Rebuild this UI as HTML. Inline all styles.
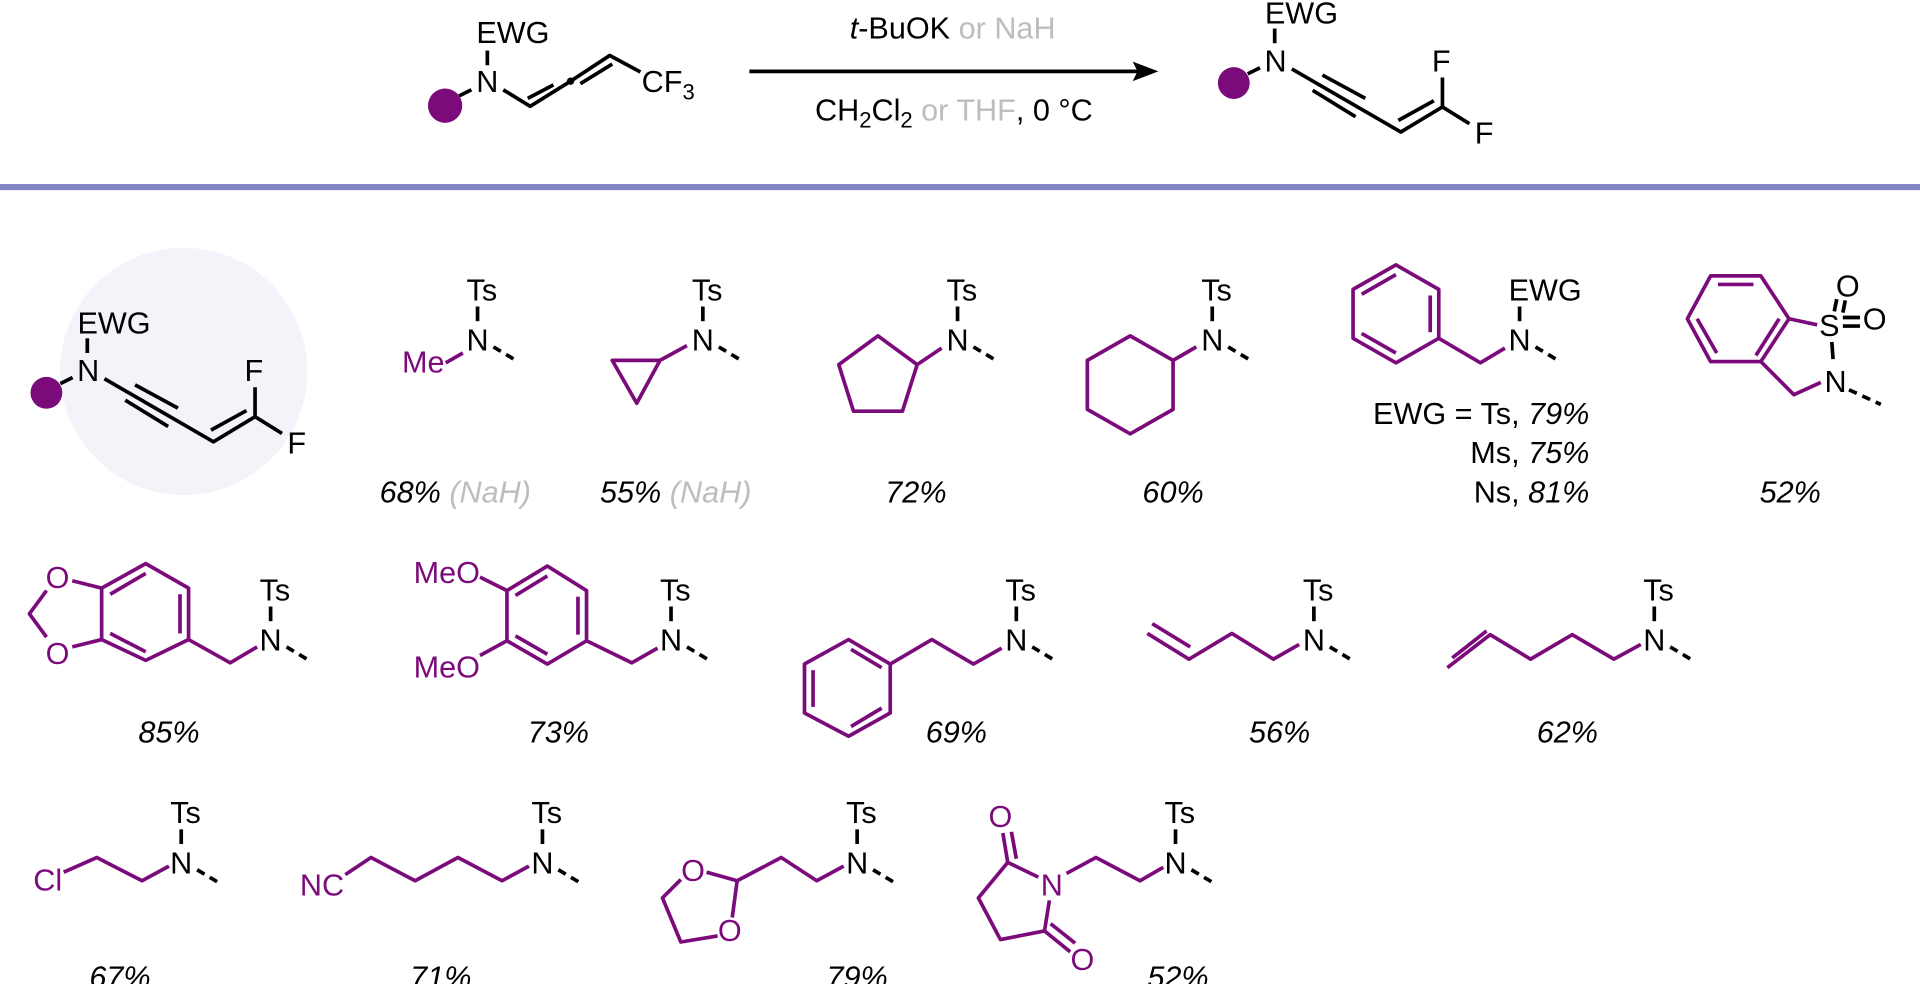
<!DOCTYPE html>
<html><head><meta charset="utf-8"><style>
html,body{margin:0;padding:0;background:#fff;}
svg{display:block;}
text{font-family:"Liberation Sans",Arial,sans-serif;font-size:25px;fill:#000;}
.p{fill:#7b0a7b;}
.g{fill:#bdbdbd;}
.i{font-style:italic;}
.k{stroke:#000;stroke-width:3;fill:none;stroke-linecap:butt;stroke-linejoin:round;}
.v{stroke:#7b0a7b;stroke-width:3;fill:none;stroke-linejoin:round;}
.d{stroke:#000;stroke-width:3;stroke-dasharray:7 5;}
</style></head><body>
<svg width="1920" height="984" viewBox="0 0 1568 803" xmlns="http://www.w3.org/2000/svg">
<rect width="1568" height="803" fill="#fff"/>
<!-- header SM -->
<text x="389" y="35">EWG</text>
<line class="k" x1="398" y1="41" x2="398" y2="53"/>
<text x="398" y="75" text-anchor="middle">N</text>
<circle cx="363.5" cy="86" r="14" fill="#7b0a7b"/>
<line class="k" x1="375" y1="78" x2="385" y2="73"/>
<polyline class="k" points="411,73 433,86.5 466,66 498,45 523,58.5"/>
<line class="k" x1="431" y1="80" x2="452" y2="69"/>
<line class="k" x1="474" y1="68" x2="500" y2="52"/>
<circle cx="466" cy="66" r="3" fill="#000"/>
<text x="524" y="75">CF<tspan font-size="18" dy="6">3</tspan></text>
<!-- arrow -->
<line class="k" x1="612" y1="58" x2="932" y2="58"/>
<polygon points="946,58 925,50 929,58 925,66" fill="#000"/>
<text x="778" y="31" text-anchor="middle"><tspan class="i">t</tspan>-BuOK <tspan class="g">or NaH</tspan></text>
<text x="779" y="98" text-anchor="middle">CH<tspan font-size="18" dy="6">2</tspan><tspan dy="-6">Cl</tspan><tspan font-size="18" dy="6">2</tspan><tspan class="g" dy="-6"> or THF</tspan>, 0 °C</text>
<!-- product -->
<g id="prod">
<text x="1033" y="19">EWG</text>
<line class="k" x1="1041" y1="23" x2="1041" y2="35"/>
<text x="1041.7" y="58" text-anchor="middle">N</text>
<circle cx="1007.6" cy="67.5" r="13" fill="#7b0a7b"/>
<line class="k" x1="1019" y1="60" x2="1029" y2="55"/>
<polyline class="k" points="1055,56 1144,107.5 1178,87 1178,63"/>
<line class="k" x1="1080" y1="61" x2="1115" y2="80"/>
<line class="k" x1="1072" y1="73.5" x2="1107" y2="95"/>
<line class="k" x1="1142" y1="98" x2="1171" y2="82"/>
<line class="k" x1="1178" y1="87" x2="1200" y2="100.7"/>
<text x="1177" y="58" text-anchor="middle">F</text>
<text x="1212" y="117" text-anchor="middle">F</text>
</g>
<rect x="0" y="150" width="1568" height="5" fill="#8084c0"/>
<!-- representative -->
<circle cx="150" cy="303" r="101" fill="#f3f3fa"/>
<g transform="translate(-969.7,253)">
<text x="1033" y="19">EWG</text>
<line class="k" x1="1041" y1="23" x2="1041" y2="35"/>
<text x="1041.7" y="58" text-anchor="middle">N</text>
<circle cx="1007.6" cy="67.5" r="13" fill="#7b0a7b"/>
<line class="k" x1="1019" y1="60" x2="1029" y2="55"/>
<polyline class="k" points="1055,56 1144,107.5 1178,87 1178,63"/>
<line class="k" x1="1080" y1="61" x2="1115" y2="80"/>
<line class="k" x1="1072" y1="73.5" x2="1107" y2="95"/>
<line class="k" x1="1142" y1="98" x2="1171" y2="82"/>
<line class="k" x1="1178" y1="87" x2="1200" y2="100.7"/>
<text x="1177" y="58" text-anchor="middle">F</text>
<text x="1212" y="117" text-anchor="middle">F</text>
</g>

<!-- Row 1 : ny=277 -->
<text x="381" y="245">Ts</text><line class="k" x1="390" y1="250" x2="390" y2="262"/><text x="390" y="286" text-anchor="middle">N</text><line class="d" x1="403" y1="283" x2="423" y2="295"/>
<text class="p" x="363" y="304" text-anchor="end">Me</text><line class="v" x1="364" y1="296" x2="378" y2="288"/>
<text x="565" y="245">Ts</text><line class="k" x1="574" y1="250" x2="574" y2="262"/><text x="574" y="286" text-anchor="middle">N</text><line class="d" x1="587" y1="283" x2="607" y2="295"/>
<polygon class="v" points="500,294 539,294 520,329"/><line class="v" x1="539" y1="294" x2="561" y2="282"/>
<text x="773" y="245">Ts</text><line class="k" x1="782" y1="250" x2="782" y2="262"/><text x="782" y="286" text-anchor="middle">N</text><line class="d" x1="795" y1="283" x2="815" y2="295"/>
<polygon class="v" points="749,297.5 737,335.5 697,335.5 685,297.5 717,274"/><line class="v" x1="749" y1="297.5" x2="769" y2="284"/>
<text x="981" y="245">Ts</text><line class="k" x1="990" y1="250" x2="990" y2="262"/><text x="990" y="286" text-anchor="middle">N</text><line class="d" x1="1003" y1="283" x2="1023" y2="295"/>
<polygon class="v" points="923,274 958,294 958,334 923,354 888,334 888,294"/><line class="v" x1="958" y1="294" x2="977" y2="283"/>
<text x="1232" y="245">EWG</text><line class="k" x1="1241" y1="250" x2="1241" y2="262"/><text x="1241" y="286" text-anchor="middle">N</text><line class="d" x1="1254" y1="283" x2="1274" y2="295"/>
<polygon class="v" points="1140,216 1175,236 1175,276 1140,296 1105,276 1105,236"/>
<line class="v" x1="1112" y1="240" x2="1140" y2="224"/><line class="v" x1="1168" y1="241" x2="1168" y2="271"/><line class="v" x1="1112" y1="272" x2="1140" y2="288"/>
<polyline class="v" points="1175,276 1209,296 1229,284"/>
<text x="1298" y="346" text-anchor="end">EWG = Ts, <tspan class="i">79%</tspan></text>
<text x="1298" y="378" text-anchor="end">Ms, <tspan class="i">75%</tspan></text>
<text x="1298" y="410" text-anchor="end">Ns, <tspan class="i">81%</tspan></text>
<polygon class="v" points="1378,260 1397,225 1438,225 1461,260 1438,295 1397,295"/>
<line class="v" x1="1403" y1="232" x2="1432" y2="232"/><line class="v" x1="1386" y1="260" x2="1402" y2="288"/><line class="v" x1="1453" y1="260" x2="1434" y2="290"/>
<line class="v" x1="1461" y1="260" x2="1484" y2="265"/>
<polyline class="v" points="1438,295 1465,322 1487,312"/>
<text x="1494" y="274" text-anchor="middle">S</text>
<text x="1509" y="242" text-anchor="middle">O</text>
<text x="1531" y="269" text-anchor="middle">O</text>
<line class="k" x1="1500" y1="244" x2="1498" y2="254"/><line class="k" x1="1507" y1="245" x2="1505" y2="255"/>
<line class="k" x1="1505" y1="259" x2="1519" y2="259"/><line class="k" x1="1505" y1="266" x2="1519" y2="266"/>
<line class="k" x1="1496" y1="279" x2="1497" y2="293"/>
<text x="1499" y="320" text-anchor="middle">N</text><line class="d" x1="1510" y1="318" x2="1536" y2="330"/>
<text class="i" x="310" y="410">68% <tspan class="g">(NaH)</tspan></text>
<text class="i" x="490" y="410">55% <tspan class="g">(NaH)</tspan></text>
<text class="i" x="748" y="410" text-anchor="middle">72%</text>
<text class="i" x="958" y="410" text-anchor="middle">60%</text>
<text class="i" x="1462" y="410" text-anchor="middle">52%</text>

<!-- Row 2 -->
<polygon class="v" points="119,460 154,480 154,522 119,539 83,522 83,480"/>
<line class="v" x1="90" y1="485" x2="119" y2="468"/><line class="v" x1="147" y1="485" x2="147" y2="517"/><line class="v" x1="90" y1="517" x2="119" y2="532"/>
<text class="p" x="47" y="480" text-anchor="middle">O</text><text class="p" x="47" y="542" text-anchor="middle">O</text>
<line class="v" x1="83" y1="480" x2="59" y2="474"/><line class="v" x1="83" y1="522" x2="59" y2="528"/>
<polyline class="v" points="38,482 24,501 38,520"/>
<polyline class="v" points="154,522 188,541 210,528"/>
<text x="212" y="490">Ts</text><line class="k" x1="221" y1="495" x2="221" y2="507"/><text x="221" y="531" text-anchor="middle">N</text><line class="d" x1="234" y1="528" x2="254" y2="540"/>
<text class="i" x="138" y="606" text-anchor="middle">85%</text>
<polygon class="v" points="447,462 479,482 479,523 447,542 414,523 414,482"/>
<line class="v" x1="421" y1="486" x2="447" y2="470"/><line class="v" x1="472" y1="487" x2="472" y2="518"/><line class="v" x1="421" y1="519" x2="447" y2="534"/>
<text class="p" x="392" y="476" text-anchor="end">MeO</text><line class="v" x1="392" y1="471" x2="414" y2="482"/>
<text class="p" x="392" y="553" text-anchor="end">MeO</text><line class="v" x1="392" y1="535" x2="414" y2="523"/>
<polyline class="v" points="479,523 516,541 537,529"/>
<text x="539" y="490">Ts</text><line class="k" x1="548" y1="495" x2="548" y2="507"/><text x="548" y="531" text-anchor="middle">N</text><line class="d" x1="561" y1="528" x2="581" y2="540"/>
<text class="i" x="456" y="606" text-anchor="middle">73%</text>
<polygon class="v" points="693,522 727,542 727,582 693,601 657,582 657,542"/>
<line class="v" x1="664" y1="547" x2="664" y2="577"/><line class="v" x1="695" y1="530" x2="720" y2="545"/><line class="v" x1="695" y1="593" x2="720" y2="578"/>
<polyline class="v" points="727,542 761,522 795,542 818,529"/>
<text x="821" y="490">Ts</text><line class="k" x1="830" y1="495" x2="830" y2="507"/><text x="830" y="531" text-anchor="middle">N</text><line class="d" x1="843" y1="528" x2="863" y2="540"/>
<text class="i" x="781" y="606" text-anchor="middle">69%</text>
<polyline class="v" points="937,517 971,538 1006,517 1040,538 1061,526"/>
<line class="v" x1="941" y1="509" x2="972" y2="528"/>
<text x="1064" y="490">Ts</text><line class="k" x1="1073" y1="495" x2="1073" y2="507"/><text x="1073" y="531" text-anchor="middle">N</text><line class="d" x1="1086" y1="528" x2="1106" y2="540"/>
<text class="i" x="1045" y="606" text-anchor="middle">56%</text>
<polyline class="v" points="1182,545 1217,518 1250,538 1284,518 1318,538 1340,526"/>
<line class="v" x1="1186" y1="537" x2="1214" y2="515"/>
<text x="1342" y="490">Ts</text><line class="k" x1="1351" y1="495" x2="1351" y2="507"/><text x="1351" y="531" text-anchor="middle">N</text><line class="d" x1="1364" y1="528" x2="1384" y2="540"/>
<text class="i" x="1280" y="606" text-anchor="middle">62%</text>

<!-- Row 3 -->
<text class="p" x="39" y="727" text-anchor="middle">Cl</text>
<polyline class="v" points="52,712 79,700 116,719 138,707"/>
<text x="139" y="672">Ts</text><line class="k" x1="148" y1="677" x2="148" y2="689"/><text x="148" y="713" text-anchor="middle">N</text><line class="d" x1="161" y1="710" x2="181" y2="722"/>
<text class="i" x="98" y="806" text-anchor="middle">67%</text>
<text class="p" x="281" y="731" text-anchor="end">NC</text>
<polyline class="v" points="282,714 303,700 339,719 374,700 410,719 432,707"/>
<text x="434" y="672">Ts</text><line class="k" x1="443" y1="677" x2="443" y2="689"/><text x="443" y="713" text-anchor="middle">N</text><line class="d" x1="456" y1="710" x2="476" y2="722"/>
<text class="i" x="360" y="806" text-anchor="middle">71%</text>
<text class="p" x="566" y="719" text-anchor="middle">O</text>
<text class="p" x="596" y="768" text-anchor="middle">O</text>
<polyline class="v" points="577,712 602,719 598,749"/>
<polyline class="v" points="586,764 556,769 541,733 556,718"/>
<polyline class="v" points="602,719 638,700 667,719 689,707"/>
<text x="691" y="672">Ts</text><line class="k" x1="700" y1="677" x2="700" y2="689"/><text x="700" y="713" text-anchor="middle">N</text><line class="d" x1="713" y1="710" x2="733" y2="722"/>
<text class="i" x="700" y="806" text-anchor="middle">79%</text>
<text class="p" x="817" y="675" text-anchor="middle">O</text>
<text class="p" x="859" y="731" text-anchor="middle">N</text>
<text class="p" x="884" y="792" text-anchor="middle">O</text>
<line class="v" x1="819" y1="680" x2="823" y2="704"/><line class="v" x1="826" y1="679" x2="830" y2="701"/>
<polyline class="v" points="848,716 823,704 799,733 817,767 853,760 857,735"/>
<line class="v" x1="853" y1="760" x2="874" y2="777"/><line class="v" x1="858" y1="754" x2="878" y2="770"/>
<polyline class="v" points="871,713 895,700 931,719 950,708"/>
<text x="951" y="672">Ts</text><line class="k" x1="960" y1="677" x2="960" y2="689"/><text x="960" y="713" text-anchor="middle">N</text><line class="d" x1="973" y1="710" x2="993" y2="722"/>
<text class="i" x="962" y="806" text-anchor="middle">52%</text>
</svg>
</body></html>
